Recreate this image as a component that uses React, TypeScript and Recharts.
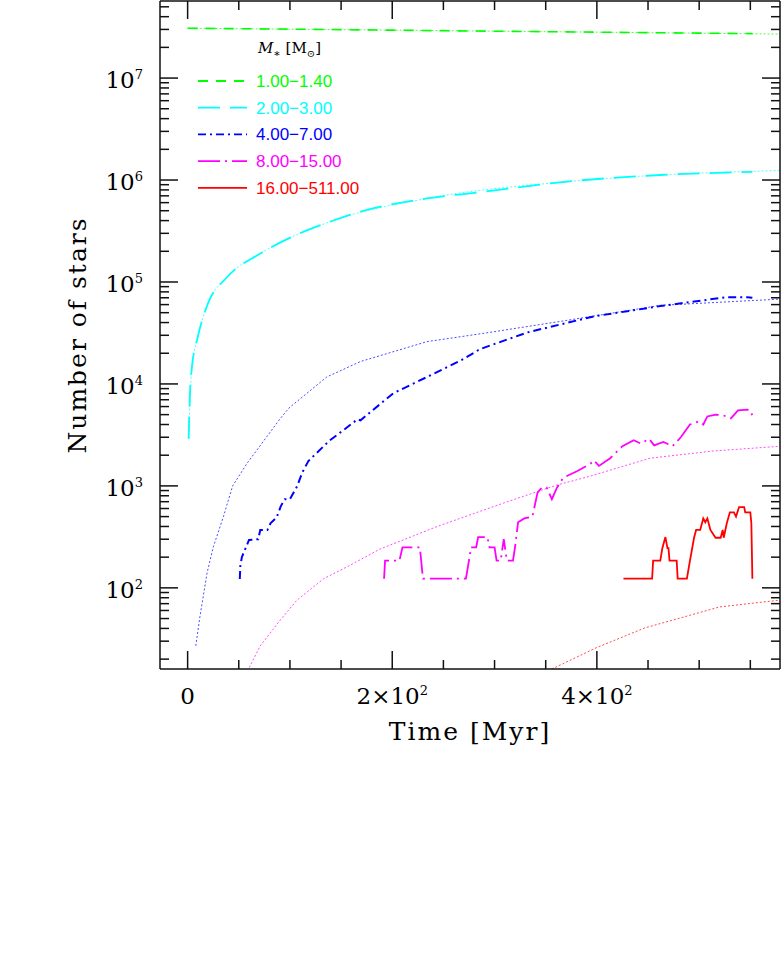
import React from 'react';
import { LineChart, Line, XAxis, YAxis, Legend } from 'recharts';

// simulation runs (thick lines) and model expectation (thin dotted), time in Myr
const lowMassRun = [
  { t: 0, n: 3.08e7 }, { t: 100, n: 3.02e7 }, { t: 200, n: 2.95e7 }, { t: 300, n: 2.88e7 },
  { t: 400, n: 2.82e7 }, { t: 500, n: 2.76e7 }, { t: 552, n: 2.73e7 },
];
const lowMassModel = [
  { t: 0, n: 3.08e7 }, { t: 200, n: 2.95e7 }, { t: 400, n: 2.82e7 }, { t: 580, n: 2.7e7 },
];

const midMassRun = [
  { t: 1, n: 2.9e3 }, { t: 2.5, n: 9e3 }, { t: 4, n: 1.4e4 }, { t: 10, n: 2.9e4 }, { t: 20, n: 6.2e4 },
  { t: 38, n: 1.1e5 }, { t: 71, n: 1.9e5 }, { t: 103, n: 2.8e5 }, { t: 136, n: 3.8e5 },
  { t: 169, n: 4.9e5 }, { t: 234, n: 6.6e5 }, { t: 286, n: 7.6e5 }, { t: 364, n: 9.5e5 },
  { t: 462, n: 1.12e6 }, { t: 552, n: 1.2e6 },
];
const midMassModel = [
  { t: 1, n: 2.9e3 }, { t: 4, n: 1.4e4 }, { t: 10, n: 2.9e4 }, { t: 20, n: 6.2e4 }, { t: 38, n: 1.1e5 },
  { t: 71, n: 1.9e5 }, { t: 136, n: 3.8e5 }, { t: 234, n: 6.6e5 }, { t: 364, n: 9.5e5 },
  { t: 462, n: 1.12e6 }, { t: 580, n: 1.24e6 },
];

const interMassRun = [
  { t: 51, n: 122 }, { t: 51.5, n: 163 }, { t: 53, n: 200 }, { t: 60, n: 295 }, { t: 69, n: 300 },
  { t: 71, n: 370 }, { t: 78, n: 370 }, { t: 81, n: 430 }, { t: 87, n: 490 }, { t: 91, n: 630 },
  { t: 95, n: 740 }, { t: 100, n: 740 }, { t: 107, n: 990 }, { t: 112, n: 1350 }, { t: 118, n: 1750 },
  { t: 126, n: 2100 }, { t: 139, n: 2800 }, { t: 152, n: 3500 }, { t: 166, n: 4500 }, { t: 169, n: 4400 },
  { t: 201, n: 8100 }, { t: 234, n: 1.17e4 }, { t: 267, n: 1.7e4 }, { t: 286, n: 2.2e4 },
  { t: 332, n: 3.2e4 }, { t: 397, n: 4.6e4 }, { t: 462, n: 5.8e4 }, { t: 527, n: 7.1e4 },
  { t: 547, n: 7.1e4 }, { t: 552, n: 7.0e4 },
];
const interMassModel = [
  { t: 8, n: 27 }, { t: 12, n: 52 }, { t: 19, n: 140 }, { t: 25, n: 250 }, { t: 35, n: 500 },
  { t: 44, n: 1000 }, { t: 58, n: 1660 }, { t: 90, n: 4500 }, { t: 99, n: 5800 }, { t: 136, n: 1.17e4 },
  { t: 169, n: 1.66e4 }, { t: 234, n: 2.6e4 }, { t: 286, n: 3.1e4 }, { t: 364, n: 4.1e4 },
  { t: 462, n: 5.9e4 }, { t: 580, n: 6.8e4 },
];

const highMassRun = [
  { t: 192, n: 123 }, { t: 193, n: 185 }, { t: 207, n: 185 }, { t: 210, n: 250 }, { t: 227, n: 250 },
  { t: 230, n: 123 }, { t: 272, n: 123 }, { t: 275, n: 185 }, { t: 277, n: 250 }, { t: 282, n: 250 },
  { t: 284, n: 315 }, { t: 293, n: 315 }, { t: 295, n: 250 }, { t: 300, n: 250 }, { t: 302, n: 185 },
  { t: 306, n: 185 }, { t: 309, n: 300 }, { t: 312, n: 185 }, { t: 318, n: 185 }, { t: 320, n: 250 },
  { t: 323, n: 440 }, { t: 329, n: 480 }, { t: 337, n: 500 }, { t: 342, n: 860 }, { t: 346, n: 960 },
  { t: 351, n: 960 }, { t: 356, n: 740 }, { t: 361, n: 960 }, { t: 367, n: 1200 }, { t: 381, n: 1400 },
  { t: 394, n: 1660 }, { t: 397, n: 1780 }, { t: 402, n: 1570 }, { t: 413, n: 1870 }, { t: 425, n: 2450 },
  { t: 436, n: 2800 }, { t: 443, n: 2600 }, { t: 451, n: 2900 }, { t: 456, n: 2500 }, { t: 465, n: 2700 },
  { t: 474, n: 2450 }, { t: 482, n: 3000 }, { t: 491, n: 4000 }, { t: 500, n: 4300 }, { t: 504, n: 4000 },
  { t: 508, n: 4800 }, { t: 516, n: 5000 }, { t: 524, n: 4900 }, { t: 531, n: 4600 }, { t: 538, n: 5500 },
  { t: 547, n: 5600 }, { t: 550, n: 5500 }, { t: 552, n: 4900 },
];
const highMassModel = [
  { t: 55, n: 13 }, { t: 71, n: 27 }, { t: 91, n: 49 }, { t: 107, n: 76 }, { t: 133, n: 123 },
  { t: 156, n: 161 }, { t: 188, n: 240 }, { t: 244, n: 400 }, { t: 309, n: 680 }, { t: 361, n: 1020 },
  { t: 394, n: 1250 }, { t: 452, n: 1870 }, { t: 514, n: 2200 }, { t: 580, n: 2450 },
];

const massiveRun = [
  { t: 426, n: 123 }, { t: 454, n: 123 }, { t: 455, n: 185 }, { t: 462, n: 185 }, { t: 464, n: 245 },
  { t: 467, n: 315 }, { t: 469, n: 245 }, { t: 470, n: 245 }, { t: 471, n: 185 }, { t: 478, n: 185 },
  { t: 479, n: 123 }, { t: 488, n: 123 }, { t: 491, n: 185 }, { t: 495, n: 310 }, { t: 497, n: 370 },
  { t: 501, n: 370 }, { t: 504, n: 480 }, { t: 506, n: 440 }, { t: 508, n: 480 }, { t: 511, n: 370 },
  { t: 516, n: 310 }, { t: 521, n: 310 }, { t: 523, n: 370 }, { t: 524, n: 310 }, { t: 527, n: 430 },
  { t: 530, n: 550 }, { t: 534, n: 550 }, { t: 536, n: 500 }, { t: 539, n: 620 }, { t: 544, n: 620 },
  { t: 545, n: 550 }, { t: 550, n: 550 }, { t: 551, n: 430 }, { t: 552, n: 123 },
];
const massiveModel = [
  { t: 353, n: 15 }, { t: 356, n: 16 }, { t: 400, n: 26 }, { t: 447, n: 40.5 }, { t: 520, n: 65 },
  { t: 580, n: 76 },
];

const SERIES = [
  { id: 'low', label: '1.00−1.40', color: '#00ff00', dash: '10 8', width: 1.6, curve: 'monotone', run: lowMassRun, model: lowMassModel },
  { id: 'mid', label: '2.00−3.00', color: '#00ffff', dash: '22 10', width: 1.8, curve: 'monotone', run: midMassRun, model: midMassModel },
  { id: 'inter', label: '4.00−7.00', color: '#0000ff', dash: '8 4 2 4', width: 2, curve: 'linear', run: interMassRun, model: interMassModel },
  { id: 'high', label: '8.00−15.00', color: '#ff00ff', dash: '22 5 2 5', width: 1.8, curve: 'linear', run: highMassRun, model: highMassModel },
  { id: 'massive', label: '16.00−511.00', color: '#ff0000', dash: undefined, width: 1.8, curve: 'linear', run: massiveRun, model: massiveModel },
];

const X_DOMAIN = [-27, 579];
const Y_DOMAIN = [16, 5.7e7];
const X_TICKS = [0, 50, 100, 150, 200, 250, 300, 350, 400, 450, 500, 550];
const X_MAJOR = [0, 200, 400];
const Y_TICKS: number[] = [];
for (let e = 1; e <= 7; e++) {
  for (let m = 1; m <= 9; m++) {
    const v = m * Math.pow(10, e);
    if (v >= Y_DOMAIN[0] && v <= Y_DOMAIN[1]) Y_TICKS.push(v);
  }
}

const SERIF = '"DejaVu Serif", serif';
const FRAME = '#111';

const isDecade = (v: number) => Math.abs(Math.log10(v) - Math.round(Math.log10(v))) < 1e-9;

const XTick = (side: 'bottom' | 'top') => (props: any) => {
  const { x, y, payload } = props;
  const v = payload.value;
  const major = X_MAJOR.includes(v);
  const len = major ? 18 : 9;
  const dir = side === 'bottom' ? -1 : 1;
  return (
    <g>
      <line x1={x} y1={y} x2={x} y2={y + dir * len} stroke={FRAME} strokeWidth={1.5} />
      {side === 'bottom' && major && (
        <text x={x} y={y + 35} textAnchor="middle" fontFamily={SERIF} fontSize={23} fill="#000">
          {v === 0 ? '0' : `${v / 100}×10`}
          {v !== 0 && <tspan dy={-9} fontSize={13}>2</tspan>}
        </text>
      )}
    </g>
  );
};

const YTick = (side: 'left' | 'right') => (props: any) => {
  const { x, y, payload } = props;
  const v = payload.value;
  const major = isDecade(v);
  const len = major ? 18 : 9;
  const dir = side === 'left' ? 1 : -1;
  return (
    <g>
      <line x1={x} y1={y} x2={x + dir * len} y2={y} stroke={FRAME} strokeWidth={1.5} />
      {side === 'left' && major && (
        <text x={x - 17} y={y + 10} textAnchor="end" fontFamily={SERIF} fontSize={23} fill="#000">
          10<tspan dy={-9} fontSize={13}>{Math.round(Math.log10(v))}</tspan>
        </text>
      )}
    </g>
  );
};

const renderLegend = () => (
  <svg width={220} height={180} style={{ overflow: 'visible', display: 'block' }}>
    <text x={68} y={23} fontFamily={SERIF} fontSize={15} fill="#000">
      <tspan fontStyle="italic">M</tspan>
      <tspan dy={4} fontSize={11}>∗</tspan>
      <tspan dy={-4}> [M</tspan>
      <tspan dy={4} fontSize={10}>⊙</tspan>
      <tspan dy={-4}>]</tspan>
    </text>
    {SERIES.map((s, i) => {
      const yy = 51 + i * 26.7;
      return (
        <g key={s.id}>
          <line x1={8} y1={yy} x2={57} y2={yy} stroke={s.color} strokeWidth={1.8} strokeDasharray={s.dash} />
          <text x={66} y={yy + 6} fontFamily='"Liberation Sans", Arial, sans-serif' fontSize={17} fill={s.color}>
            {s.label}
          </text>
        </g>
      );
    })}
  </svg>
);

export default function App() {
  return (
    <div style={{ position: 'absolute', left: 0, top: 0, background: '#fff' }}>
      <LineChart width={781} height={955} margin={{ top: 0, right: 0, bottom: 0, left: 0 }}>
        <XAxis
          xAxisId="b"
          type="number"
          dataKey="t"
          domain={X_DOMAIN}
          allowDataOverflow
          ticks={X_TICKS}
          interval={0}
          height={286}
          tickSize={0}
          tickMargin={0}
          axisLine={{ stroke: FRAME, strokeWidth: 1.5 }}
          tickLine={false}
          tick={XTick('bottom')}
          label={{
            content: () => (
              <text x={470} y={740} textAnchor="middle" fontFamily={SERIF} fontSize={25} letterSpacing={2} fill="#000">
                Time [Myr]
              </text>
            ),
          }}
        />
        <XAxis
          xAxisId="t"
          orientation="top"
          type="number"
          dataKey="t"
          domain={X_DOMAIN}
          allowDataOverflow
          ticks={X_TICKS}
          interval={0}
          height={1}
          tickSize={0}
          tickMargin={0}
          axisLine={{ stroke: FRAME, strokeWidth: 1.5 }}
          tickLine={false}
          tick={XTick('top')}
        />
        <YAxis
          yAxisId="l"
          scale="log"
          type="number"
          domain={Y_DOMAIN}
          allowDataOverflow
          ticks={Y_TICKS}
          interval={0}
          width={160}
          tickSize={0}
          tickMargin={0}
          axisLine={{ stroke: FRAME, strokeWidth: 1.5 }}
          tickLine={false}
          tick={YTick('left')}
          label={{
            content: () => (
              <text
                x={86}
                y={335}
                transform="rotate(-90 86 335)"
                textAnchor="middle"
                fontFamily={SERIF}
                fontSize={25}
                letterSpacing={2}
                fill="#000"
              >
                Number of stars
              </text>
            ),
          }}
        />
        <YAxis
          yAxisId="r"
          orientation="right"
          scale="log"
          type="number"
          domain={Y_DOMAIN}
          allowDataOverflow
          ticks={Y_TICKS}
          interval={0}
          width={1}
          tickSize={0}
          tickMargin={0}
          axisLine={{ stroke: FRAME, strokeWidth: 1.5 }}
          tickLine={false}
          tick={YTick('right')}
        />
        {SERIES.map((s) => (
          <Line
            key={s.id + '-model'}
            xAxisId="t"
            yAxisId="r"
            data={s.model}
            dataKey="n"
            type={s.curve as any}
            stroke={s.color}
            strokeOpacity={0.7}
            strokeWidth={1}
            strokeDasharray="2 2"
            dot={false}
            legendType="none"
            isAnimationActive={false}
          />
        ))}
        {SERIES.map((s) => (
          <Line
            key={s.id + '-run'}
            xAxisId="b"
            yAxisId="l"
            data={s.run}
            dataKey="n"
            type={s.curve as any}
            stroke={s.color}
            strokeWidth={s.width}
            strokeDasharray={s.dash}
            dot={false}
            isAnimationActive={false}
          />
        ))}
        <Legend
          layout="vertical"
          align="center"
          verticalAlign="middle"
          content={renderLegend}
          wrapperStyle={{ left: 190, top: 30, width: 220, height: 180 }}
        />
      </LineChart>
    </div>
  );
}
